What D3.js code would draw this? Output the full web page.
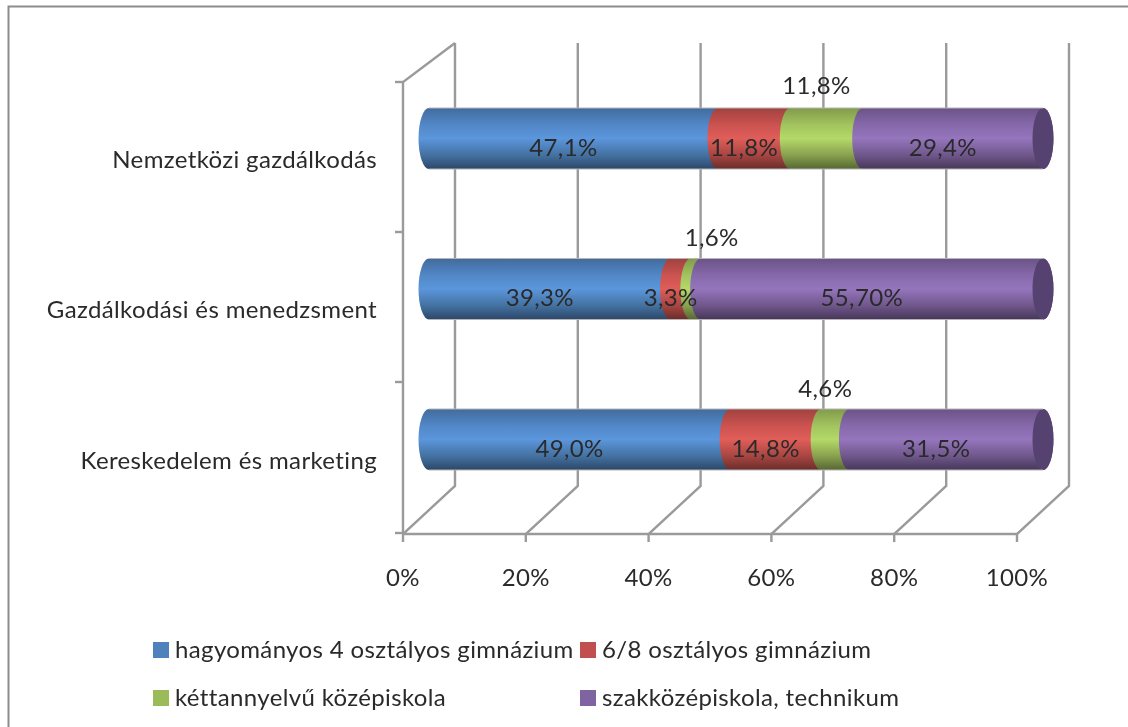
<!DOCTYPE html>
<html><head><meta charset="utf-8">
<script src="https://cdn.jsdelivr.net/npm/d3@7"></script>
<style>html,body{margin:0;padding:0;background:#fff}svg{display:block}text{font-family:Lato,"Open Sans",sans-serif;fill:#2a2a2a;letter-spacing:.36px}</style>
</head><body><svg id="c" width="1128" height="727"></svg>
<script>
const categories = ["Nemzetközi gazdálkodás","Gazdálkodási és menedzsment","Kereskedelem és marketing"];
const seriesNames = ["hagyományos 4 osztályos gimnázium","6/8 osztályos gimnázium","kéttannyelvű középiskola","szakközépiskola, technikum"];
const gimn4 = [47.1,39.3,49.0];
const gimn68 = [11.8,3.3,14.8];
const ketTan = [11.8,1.6,4.6];
const szakk = [29.4,55.7,31.5];
const labelsGimn4 = ["47,1%","39,3%","49,0%"];
const labelsGimn68 = ["11,8%","3,3%","14,8%"];
const labelsKetTan = ["11,8%","1,6%","4,6%"];
const labelsSzakk = ["29,4%","55,70%","31,5%"];
const xTicks = [0,20,40,60,80,100];
const palette = [
 {base:"#4f81bd",top:"#416b9d",up:"#5288c8",mid:"#5b96dc",low:"#43709f",bot:"#2c4768"},
 {base:"#c0504d",top:"#a0423f",up:"#cc5350",mid:"#e05d59",low:"#a64541",bot:"#6a2c2a"},
 {base:"#9bbb59",top:"#819b4a",up:"#a3c45f",mid:"#b4d968",low:"#879f4e",bot:"#566731"},
 {base:"#8064a2",top:"#6b5387",up:"#8669ab",mid:"#9575bd",low:"#6e5689",bot:"#473759"}];
const series = [gimn4,gimn68,ketTan,szakk];
const seriesLabels = [labelsGimn4,labelsGimn68,labelsKetTan,labelsSzakk];

const svg = d3.select("#c");
const defs = svg.append("defs");
defs.append("filter").attr("id","soft").attr("x","-2%").attr("y","-2%").attr("width","104%").attr("height","104%")
  .append("feGaussianBlur").attr("stdDeviation",0.45);
palette.forEach((p,i)=>{
  const g = defs.append("linearGradient").attr("id","g"+i).attr("x1",0).attr("x2",0).attr("y1",0).attr("y2",1);
  [[0,p.top],[0.28,p.up],[0.5,p.mid],[0.78,p.low],[1,p.bot]].forEach(s=>g.append("stop").attr("offset",s[0]).attr("stop-color",s[1]));
});
const root = svg.append("g").attr("filter","url(#soft)");

// frame
root.append("path").attr("d","M8.5,727V6.5H1130").attr("fill","none").attr("stroke","#8c8c8c").attr("stroke-width",2);

const floorY=534, depthX=52, depthY=48, wallTop=43;
const x = d3.scaleLinear().domain([0,100]).range([403,1017]);
const y = d3.scalePoint().domain(categories).range([138.5,439.5]);
const barH=61, rx=10.5, barShift=26;
const gridC="#9a9a9a";

// walls / grid
const grid = root.append("g").attr("fill","none").attr("stroke",gridC).attr("stroke-width",2.4);
grid.selectAll("path.g").data(xTicks).join("path").attr("class","g")
  .attr("d",d=>`M${x(d)},${floorY+8}V${floorY}L${x(d)+depthX},${floorY-depthY}V${wallTop}`);
grid.append("path").attr("d",`M${x(0)},${floorY}H${x(100)}`);
grid.append("path").attr("d",`M${x(0)},${floorY}V82L${x(0)+depthX},${wallTop}`);
const catBands=[82,232,382,533];
grid.selectAll("path.c").data(catBands).join("path").attr("class","c").attr("d",d=>`M${x(0)-8},${d}H${x(0)}`);

// bars
const bx = v=>x(v)+barShift;
categories.forEach((cat,ci)=>{
  const cy=y(cat), t=cy-barH/2, b=cy+barH/2;
  let cum=0;
  const total=d3.sum(series,s=>s[ci]);
  const g=root.append("g");
  series.forEach((s,si)=>{
    const x0=bx(cum/total*100), x1=bx((cum+s[ci])/total*100);
    cum+=s[ci];
    g.append("path").attr("fill",`url(#g${si})`)
     .attr("d",`M${x0},${t}L${x1},${t}A${rx},${barH/2} 0 0 1 ${x1},${b}L${x0},${b}A${rx},${barH/2} 0 0 1 ${x0},${t}Z`);
    if(si===3){
      g.append("ellipse").attr("cx",x1).attr("cy",cy).attr("rx",rx).attr("ry",barH/2).attr("fill","#55426f");
    }
  });
  g.append("path").attr("fill","none").attr("stroke","#b5b5b5").attr("stroke-width",1)
   .attr("d",`M${bx(0)},${t}H${bx(100)}M${bx(0)},${b}H${bx(100)}`);
});

// data labels
const labelOffsets = {outer:[[0,-50.5],[26,-49],[0,-49]]};
const lab=root.append("g").attr("font-size",24).attr("text-anchor","middle");
categories.forEach((cat,ci)=>{
  let cum=0; const total=d3.sum(series,s=>s[ci]);
  series.forEach((s,si)=>{
    const c=(cum+s[ci]/2)/total*100; cum+=s[ci];
    let px=bx(c)-10, py=y(cat)+11;
    if(si===2){ px+=labelOffsets.outer[ci][0]; py=y(cat)+labelOffsets.outer[ci][1]; }
    lab.append("text").attr("x",px).attr("y",py).attr("dominant-baseline","middle").text(seriesLabels[si][ci]);
  });
});

// axis labels
root.append("g").attr("font-size",24).attr("text-anchor","end").selectAll("text").data(categories).join("text")
  .attr("x",377).attr("y",d=>y(d)+29).text(d=>d);
root.append("g").attr("font-size",24).attr("text-anchor","middle").selectAll("text").data(xTicks).join("text")
  .attr("x",d=>x(d)).attr("y",586).text(d=>d+"%");

// legend
const legendPos=[[153,650],[580,650],[153,698],[580,698]];
const lg=root.append("g").attr("font-size",24);
seriesNames.forEach((n,i)=>{
  const [lx,ly]=legendPos[i];
  lg.append("rect").attr("x",lx).attr("y",ly-8).attr("width",16).attr("height",16).attr("fill",palette[i].base);
  lg.append("text").attr("x",lx+22).attr("y",ly+8).text(n);
});
</script></body></html>
